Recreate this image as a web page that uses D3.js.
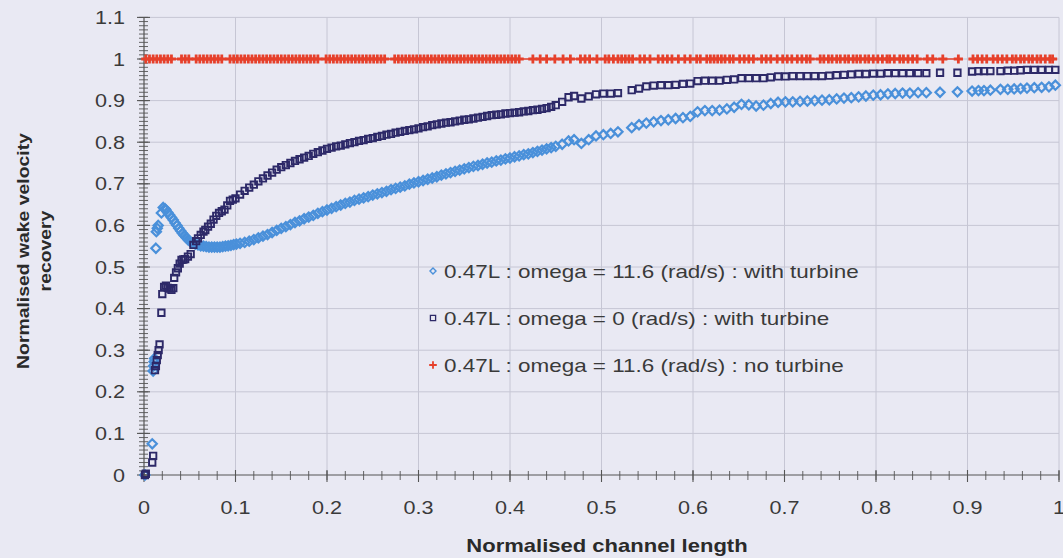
<!DOCTYPE html>
<html>
<head>
<meta charset="utf-8">
<script src="https://cdn.jsdelivr.net/npm/d3@7"></script>
<style>
  html, body { margin: 0; padding: 0; background: #e9e9f3; }
  svg { display: block; }
  text { font-family: Arial, "Liberation Sans", sans-serif; }
</style>
</head>
<body>
<svg id="chart" width="1063" height="558"></svg>
<script>
// ---- axis ticks ----
const xTickValues = [0, 0.1, 0.2, 0.3, 0.4, 0.5, 0.6, 0.7, 0.8, 0.9, 1];
const xTickLabels = ["0", "0.1", "0.2", "0.3", "0.4", "0.5", "0.6", "0.7", "0.8", "0.9", "1"];
const yTickValues = [0, 0.1, 0.2, 0.3, 0.4, 0.5, 0.6, 0.7, 0.8, 0.9, 1, 1.1];
const yTickLabels = ["0", "0.1", "0.2", "0.3", "0.4", "0.5", "0.6", "0.7", "0.8", "0.9", "1", "1.1"];

const seriesNames = [
  "0.47L : omega = 11.6 (rad/s) : with turbine",
  "0.47L : omega = 0 (rad/s) : with turbine",
  "0.47L : omega = 11.6 (rad/s) : no turbine"
];

// ---- series: [normalised channel length, normalised wake velocity recovery] ----
const spinWithTurbine = [
  [0.001,0.000],[0.009,0.075],[0.010,0.250],[0.0105,0.262],[0.011,0.272],[0.0115,0.280],
  [0.013,0.545],[0.0135,0.585],[0.0145,0.593],[0.0155,0.600],[0.019,0.630],[0.021,0.643],
  [0.023,0.640],[0.024,0.637],[0.026,0.631],[0.028,0.625],[0.030,0.619],[0.032,0.613],
  [0.034,0.606],[0.036,0.600],[0.038,0.593],[0.040,0.587],[0.042,0.581],[0.044,0.576],
  [0.046,0.571],[0.048,0.566],[0.050,0.562],[0.053,0.558],[0.056,0.555],[0.059,0.553],
  [0.062,0.551],[0.065,0.550],[0.068,0.549],[0.071,0.548],[0.074,0.548],[0.077,0.548],
  [0.080,0.548],[0.083,0.548],[0.086,0.549],[0.089,0.550],[0.092,0.551],[0.095,0.552],
  [0.098,0.554],[0.101,0.555],
  [0.105,0.557],[0.110,0.559],[0.115,0.562],[0.120,0.566],[0.125,0.570],[0.130,0.574],
  [0.135,0.578],[0.140,0.583],[0.145,0.588],[0.150,0.593],[0.155,0.597],[0.160,0.602],
  [0.165,0.607],[0.170,0.611],[0.175,0.616],[0.180,0.620],[0.185,0.624],[0.190,0.629],
  [0.195,0.633],[0.200,0.637],[0.205,0.641],[0.210,0.645],[0.215,0.649],[0.220,0.653],
  [0.225,0.656],[0.230,0.660],[0.235,0.663],[0.240,0.666],[0.245,0.669],[0.250,0.673],
  [0.255,0.676],[0.260,0.679],[0.265,0.682],[0.270,0.686],[0.275,0.689],[0.280,0.692],
  [0.285,0.695],[0.290,0.699],[0.295,0.702],[0.300,0.705],[0.305,0.708],[0.310,0.711],
  [0.315,0.714],[0.320,0.717],[0.325,0.721],[0.330,0.724],[0.335,0.727],[0.340,0.730],
  [0.345,0.733],[0.350,0.736],[0.355,0.739],[0.360,0.742],[0.365,0.744],[0.370,0.747],
  [0.375,0.750],[0.380,0.752],[0.385,0.755],[0.390,0.757],[0.395,0.760],[0.400,0.762],
  [0.405,0.765],[0.410,0.767],[0.415,0.770],[0.420,0.772],[0.425,0.775],[0.430,0.778],
  [0.435,0.781],[0.440,0.784],[0.445,0.787],[0.450,0.790],
  [0.457,0.795],[0.464,0.803],[0.470,0.806],[0.478,0.797],[0.486,0.806],[0.494,0.815],
  [0.502,0.818],[0.510,0.821],[0.518,0.825],[0.533,0.835],[0.541,0.842],[0.549,0.846],
  [0.557,0.849],[0.565,0.852],[0.573,0.854],[0.581,0.857],[0.589,0.859],[0.597,0.862],
  [0.605,0.873],[0.613,0.876],[0.621,0.876],[0.629,0.877],[0.637,0.880],[0.645,0.884],
  [0.653,0.891],[0.661,0.890],[0.669,0.887],[0.677,0.889],[0.685,0.893],[0.693,0.896],
  [0.701,0.897],[0.709,0.897],[0.717,0.898],[0.725,0.899],[0.733,0.900],[0.741,0.901],
  [0.749,0.902],[0.757,0.904],[0.765,0.906],[0.773,0.907],[0.781,0.909],[0.789,0.911],
  [0.797,0.913],[0.805,0.914],[0.813,0.916],[0.821,0.917],[0.829,0.918],[0.837,0.918],
  [0.846,0.919],[0.855,0.919],[0.870,0.920],[0.889,0.921],
  [0.905,0.923],[0.912,0.924],[0.918,0.924],[0.925,0.925],[0.936,0.927],[0.944,0.927],
  [0.951,0.928],[0.958,0.929],[0.965,0.930],[0.973,0.931],[0.981,0.932],[0.989,0.933],
  [0.996,0.937]
];

const staticWithTurbine = [
  [0.001,0.000],[0.002,0.003],[0.009,0.030],[0.010,0.046],[0.012,0.252],[0.013,0.262],
  [0.014,0.276],[0.015,0.288],[0.016,0.300],[0.017,0.314],[0.019,0.390],[0.020,0.435],
  [0.022,0.452],[0.024,0.455],[0.026,0.450],[0.028,0.448],[0.030,0.445],[0.032,0.449],
  [0.033,0.474],[0.035,0.487],[0.037,0.497],[0.039,0.508],[0.041,0.517],[0.043,0.518],
  [0.045,0.519],[0.048,0.525],[0.051,0.531],[0.054,0.553],[0.057,0.562],[0.059,0.569],
  [0.062,0.577],[0.065,0.585],[0.067,0.589],[0.070,0.597],[0.073,0.604],[0.076,0.614],
  [0.079,0.623],[0.082,0.630],[0.085,0.634],[0.088,0.638],[0.091,0.648],[0.094,0.659],
  [0.097,0.662],[0.100,0.665],
  [0.105,0.674],[0.110,0.683],[0.115,0.691],[0.120,0.698],[0.125,0.706],[0.130,0.713],
  [0.135,0.720],[0.140,0.727],[0.145,0.734],[0.150,0.740],[0.155,0.745],[0.160,0.750],
  [0.165,0.755],[0.170,0.759],[0.175,0.763],[0.180,0.767],[0.185,0.772],[0.190,0.776],
  [0.195,0.780],[0.200,0.784],[0.205,0.787],[0.210,0.790],[0.215,0.792],[0.220,0.795],
  [0.225,0.798],[0.230,0.800],[0.235,0.803],[0.240,0.805],[0.245,0.808],[0.250,0.810],
  [0.255,0.813],[0.260,0.815],[0.265,0.818],[0.270,0.820],[0.275,0.823],[0.280,0.825],
  [0.285,0.827],[0.290,0.829],[0.295,0.831],[0.300,0.833],[0.305,0.836],[0.310,0.838],
  [0.315,0.841],[0.320,0.843],[0.325,0.845],[0.330,0.847],[0.335,0.848],[0.340,0.850],
  [0.345,0.852],[0.350,0.854],[0.355,0.855],[0.360,0.857],[0.365,0.859],[0.370,0.861],
  [0.375,0.863],[0.380,0.865],[0.385,0.866],[0.390,0.867],[0.395,0.869],[0.400,0.870],
  [0.405,0.871],[0.410,0.872],[0.415,0.874],[0.420,0.875],[0.425,0.877],[0.430,0.878],
  [0.435,0.880],[0.440,0.882],[0.445,0.885],[0.450,0.889],
  [0.457,0.897],[0.464,0.908],[0.470,0.911],[0.478,0.905],[0.486,0.910],[0.494,0.915],
  [0.502,0.917],[0.510,0.917],[0.518,0.918],[0.533,0.925],[0.541,0.929],[0.549,0.934],
  [0.557,0.936],[0.565,0.937],[0.573,0.937],[0.581,0.938],[0.589,0.940],[0.597,0.941],
  [0.605,0.947],[0.613,0.948],[0.621,0.948],[0.629,0.948],[0.637,0.950],[0.645,0.951],
  [0.653,0.954],[0.661,0.954],[0.669,0.954],[0.677,0.954],[0.685,0.956],[0.693,0.958],
  [0.701,0.958],[0.709,0.959],[0.717,0.959],[0.725,0.959],[0.733,0.959],[0.741,0.959],
  [0.749,0.960],[0.757,0.961],[0.765,0.962],[0.773,0.963],[0.781,0.964],[0.789,0.964],
  [0.797,0.965],[0.805,0.965],[0.813,0.966],[0.821,0.966],[0.829,0.966],[0.837,0.966],
  [0.846,0.966],[0.855,0.966],[0.870,0.967],[0.889,0.967],
  [0.905,0.970],[0.912,0.971],[0.918,0.971],[0.925,0.971],[0.936,0.971],[0.944,0.972],
  [0.951,0.972],[0.958,0.973],[0.965,0.974],[0.973,0.974],[0.981,0.974],[0.989,0.974],
  [0.996,0.974]
];

// free-stream run, sampled in two stretches either side of x = 0.9
const noTurbineNear = [
  [0.002,1],[0.006,1],[0.010,1],[0.014,1],[0.018,1],[0.022,1],[0.026,1],[0.030,1],
  [0.041,1],[0.045,1],[0.049,1],
  [0.057,1],[0.061,1],[0.065,1],[0.069,1],[0.073,1],[0.077,1],[0.081,1],[0.085,1],
  [0.094,1],[0.098,1],[0.102,1],[0.106,1],[0.110,1],[0.114,1],[0.118,1],[0.122,1],
  [0.126,1],[0.130,1],[0.134,1],[0.138,1],[0.142,1],[0.146,1],[0.150,1],[0.154,1],
  [0.158,1],[0.162,1],[0.166,1],[0.170,1],[0.174,1],[0.178,1],[0.182,1],[0.186,1],[0.190,1],
  [0.199,1],[0.203,1],[0.207,1],[0.211,1],[0.215,1],[0.219,1],[0.223,1],[0.227,1],
  [0.231,1],[0.235,1],[0.239,1],[0.243,1],[0.247,1],[0.251,1],[0.255,1],[0.259,1],[0.263,1],
  [0.274,1],[0.278,1],[0.282,1],[0.286,1],[0.290,1],[0.294,1],[0.298,1],[0.302,1],
  [0.306,1],[0.310,1],[0.314,1],[0.318,1],[0.322,1],[0.326,1],[0.330,1],[0.334,1],
  [0.338,1],[0.342,1],[0.346,1],[0.350,1],[0.354,1],[0.358,1],[0.362,1],[0.366,1],
  [0.370,1],[0.374,1],[0.378,1],[0.382,1],[0.386,1],[0.390,1],[0.394,1],[0.398,1],
  [0.402,1],[0.406,1],[0.410,1],
  [0.425,1],[0.433,1],[0.440,1],[0.449,1],[0.458,1],[0.466,1],[0.477,1],[0.482,1],
  [0.487,1],[0.495,1],[0.504,1],[0.508,1],[0.513,1],[0.518,1],[0.522,1],[0.526,1],
  [0.530,1],[0.534,1],[0.542,1],[0.547,1],[0.553,1],[0.562,1],[0.567,1],[0.572,1],
  [0.577,1],[0.584,1],[0.591,1],[0.597,1],[0.604,1],[0.608,1],[0.615,1],[0.619,1],
  [0.623,1],[0.627,1],[0.631,1],[0.635,1],[0.640,1],[0.644,1],[0.651,1],[0.656,1],
  [0.661,1],[0.666,1],[0.675,1],[0.680,1],[0.685,1],[0.692,1],[0.698,1],[0.703,1],
  [0.708,1],[0.714,1],[0.719,1],[0.724,1],[0.728,1],[0.739,1],[0.743,1],[0.748,1],
  [0.752,1],[0.757,1],[0.761,1],[0.766,1],[0.770,1],[0.775,1],[0.779,1],[0.783,1],
  [0.788,1],[0.792,1],[0.797,1],[0.802,1],[0.807,1],[0.812,1],[0.815,1],[0.820,1],
  [0.826,1],[0.830,1],[0.835,1],[0.840,1],[0.845,1],[0.856,1],[0.862,1],[0.873,1],[0.890,1]
];
const noTurbineFar = [
  [0.906,1],[0.911,1],[0.916,1],[0.921,1],[0.928,1],[0.933,1],[0.938,1],[0.943,1],
  [0.949,1],[0.953,1],[0.958,1],[0.962,1],[0.967,1],[0.971,1],[0.976,1],[0.980,1],
  [0.985,1],[0.990,1],[0.993,1]
];

// ---- layout ----
const svg = d3.select("#chart");
const x = d3.scaleLinear().domain([0, 1]).range([144, 1059]);
const y = d3.scaleLinear().domain([0, 1.1]).range([475, 17.4]);

const colours = { spin: "#4a90da", stat: "#2d2968", free: "#e6402b", axis: "#555", grid: "#c6c6d4", text: "#3a3a3a" };

// text drawn with a slight horizontal stretch
function wideText(parent, px, py, str, o) {
  const g = parent.append("g").attr("transform", `translate(${px},${py}) scale(${o.sx || 1},1)`);
  return g.append("text")
    .attr("text-anchor", o.anchor || "start")
    .attr("font-size", o.size)
    .attr("font-weight", o.weight || "normal")
    .attr("fill", o.fill || colours.text)
    .text(str);
}

// gridlines
const grid = svg.append("g");
grid.selectAll("line.gy").data(yTickValues.filter(v => v > 0)).join("line")
  .attr("x1", x(0)).attr("x2", x(1))
  .attr("y1", d => y(d)).attr("y2", d => y(d))
  .attr("stroke", colours.grid).attr("stroke-width", 1);
grid.selectAll("line.gx").data(xTickValues.filter(v => v > 0)).join("line")
  .attr("x1", d => x(d)).attr("x2", d => x(d))
  .attr("y1", y(0)).attr("y2", y(1.1))
  .attr("stroke", colours.grid).attr("stroke-width", 1);

// axes with ticks crossing the line
const axes = svg.append("g").attr("stroke", colours.axis);
axes.append("line").attr("x1", x(0)).attr("x2", x(0)).attr("y1", y(0)).attr("y2", y(1.1)).attr("stroke-width", 1.2);
axes.append("line").attr("x1", x(0)).attr("x2", x(1)).attr("y1", y(0)).attr("y2", y(0)).attr("stroke-width", 1.2);

const yMinor = d3.range(0, 111).map(i => i / 100);
axes.selectAll("line.ym").data(yMinor).join("line")
  .attr("x1", x(0) - 5).attr("x2", x(0) + 4)
  .attr("y1", d => y(d)).attr("y2", d => y(d)).attr("stroke-width", 0.9);
axes.selectAll("line.yM").data(yTickValues).join("line")
  .attr("x1", x(0) - 7).attr("x2", x(0) + 6)
  .attr("y1", d => y(d)).attr("y2", d => y(d)).attr("stroke-width", 1.1);

const xMinor = d3.range(0, 51).map(i => i / 50);
axes.selectAll("line.xm").data(xMinor).join("line")
  .attr("x1", d => x(d)).attr("x2", d => x(d))
  .attr("y1", y(0) - 4).attr("y2", y(0) + 5).attr("stroke-width", 0.9);
axes.selectAll("line.xM").data(xTickValues).join("line")
  .attr("x1", d => x(d)).attr("x2", d => x(d))
  .attr("y1", y(0) - 5).attr("y2", y(0) + 7).attr("stroke-width", 1.1);

// tick labels
const labels = svg.append("g");
yTickValues.forEach((v, i) => wideText(labels, 125, y(v) + 6.5, yTickLabels[i], { size: 18, sx: 1.2, anchor: "end" }));
xTickValues.forEach((v, i) => wideText(labels, x(v), 514, xTickLabels[i], { size: 18, sx: 1.2, anchor: "middle" }));

// axis titles
wideText(labels, 607, 552, "Normalised channel length", { size: 18.5, sx: 1.19, anchor: "middle", weight: "bold", fill: "#2a2a2a" });
const yTitle = labels.append("g").attr("transform", "translate(0,251)");
[["Normalised wake velocity", 29], ["recovery", 51]].forEach(([s, bx]) => {
  yTitle.append("g").attr("transform", `translate(${bx},0) rotate(-90) scale(1.14,1)`)
    .append("text").attr("text-anchor", "middle").attr("font-size", 17).attr("font-weight", "bold")
    .attr("fill", "#2a2a2a").text(s);
});

// marker shapes
const diamond = r => `M0,${-r}L${r},0L0,${r}L${-r},0Z`;
const square = r => `M${-r},${-r}H${r}V${r}H${-r}Z`;
const plus = r => `M${-r},0H${r}M0,${-r}V${r}`;

const marks = svg.append("g");

// omega = 11.6, with turbine
marks.append("g").selectAll("path").data(spinWithTurbine).join("path")
  .attr("transform", d => `translate(${x(d[0])},${y(d[1])})`)
  .attr("d", diamond(4.6))
  .attr("fill", "none").attr("stroke", colours.spin).attr("stroke-width", 2.2);

// omega = 0, with turbine
marks.append("g").selectAll("path").data(staticWithTurbine).join("path")
  .attr("transform", d => `translate(${x(d[0])},${y(d[1])})`)
  .attr("d", square(3.2))
  .attr("fill", "none").attr("stroke", colours.stat).attr("stroke-width", 1.9);

// omega = 11.6, no turbine
const runLine = d3.line().x(d => x(d[0])).y(d => y(d[1]));
[noTurbineNear, noTurbineFar].forEach(run => {
  marks.append("path").datum(run).attr("d", runLine)
    .attr("fill", "none").attr("stroke", colours.free).attr("stroke-width", 1.4);
  marks.append("g").selectAll("path").data(run).join("path")
    .attr("transform", d => `translate(${x(d[0])},${y(d[1])})`)
    .attr("d", plus(4.6))
    .attr("fill", "none").attr("stroke", colours.free).attr("stroke-width", 2.8);
});

// legend
const legend = svg.append("g");
const legendRows = [
  { name: seriesNames[0], shape: diamond(3), colour: colours.spin, w: 1.4, y: 271 },
  { name: seriesNames[1], shape: square(2.6), colour: colours.stat, w: 1.3, y: 318 },
  { name: seriesNames[2], shape: plus(3.8), colour: colours.free, w: 1.8, y: 365 }
];
legendRows.forEach(r => {
  legend.append("path").attr("transform", `translate(433,${r.y})`).attr("d", r.shape)
    .attr("fill", "none").attr("stroke", r.colour).attr("stroke-width", r.w);
  wideText(legend, 444, r.y + 6.5, r.name, { size: 18.4, sx: 1.22 });
});
</script>
</body>
</html>
